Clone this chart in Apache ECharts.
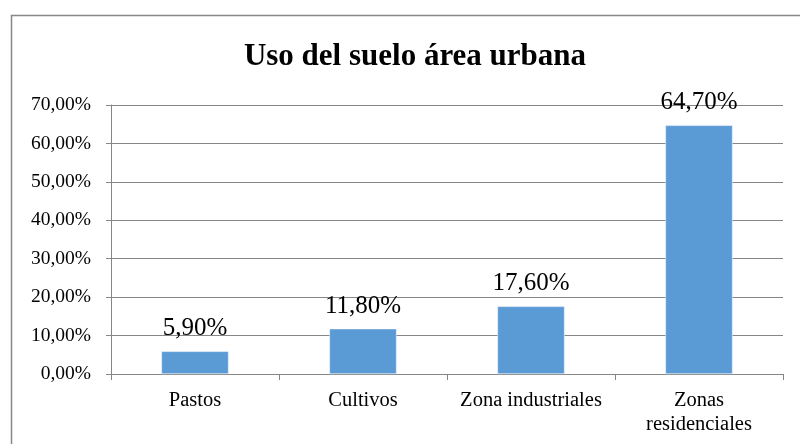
<!DOCTYPE html>
<html>
<head>
<meta charset="utf-8">
<script src="https://cdn.jsdelivr.net/npm/echarts@6/dist/echarts.min.js"></script>
<style>
  html, body { margin: 0; padding: 0; background: #fff; }
  #chart { width: 800px; height: 444px; }
</style>
</head>
<body>
<div id="chart"></div>
<script>
const categories = ['Pastos', 'Cultivos', 'Zona industriales', 'Zonas\nresidenciales']
const values = [5.9, 11.8, 17.6, 64.7]
const yTicks = [0, 10, 20, 30, 40, 50, 60, 70]

const font = '"Liberation Serif", "Times New Roman", serif'
const fmt = (v) => v.toFixed(2).replace('.', ',') + '%'

const chart = echarts.init(document.getElementById('chart'))
chart.setOption({
  animation: false,
  graphic: [
    {
      type: 'rect',
      shape: { x: 11.5, y: 15.5, width: 800, height: 440 },
      style: { fill: 'none', stroke: '#878787', lineWidth: 1.5 },
    },
  ],
  title: {
    text: 'Uso del suelo área urbana',
    left: 410,
    top: 36,
    textAlign: 'center',
    textStyle: { fontFamily: font, fontWeight: 'bold', fontSize: 31, color: '#000' },
  },
  grid: { left: 111, right: 17, top: 105, bottom: 70 },
  xAxis: {
    type: 'category',
    data: categories,
    axisLine: { lineStyle: { color: '#868686', width: 1 } },
    axisTick: { show: true, length: 6, lineStyle: { color: '#868686' } },
    axisLabel: {
      interval: 0,
      fontFamily: font,
      fontSize: 20.5,
      color: '#000',
      margin: 15,
      lineHeight: 24,
    },
  },
  yAxis: {
    type: 'value',
    min: yTicks[0],
    max: yTicks[yTicks.length - 1],
    interval: 10,
    axisLine: { show: true, lineStyle: { color: '#868686', width: 1 } },
    axisTick: { show: true, length: 5, lineStyle: { color: '#868686' } },
    splitLine: { lineStyle: { color: '#868686', width: 1 } },
    axisLabel: {
      fontFamily: font,
      fontSize: 19.5,
      color: '#000',
      margin: 20,
      formatter: fmt,
    },
  },
  series: [
    {
      type: 'bar',
      data: values,
      barWidth: '40%',
      itemStyle: { color: '#5B9BD5', borderColor: '#fff', borderWidth: 0.5 },
      label: {
        show: true,
        position: 'top',
        distance: 10,
        fontFamily: font,
        fontSize: 25,
        color: '#000',
        formatter: (p) => fmt(p.value),
      },
    },
  ],
})
</script>
</body>
</html>
